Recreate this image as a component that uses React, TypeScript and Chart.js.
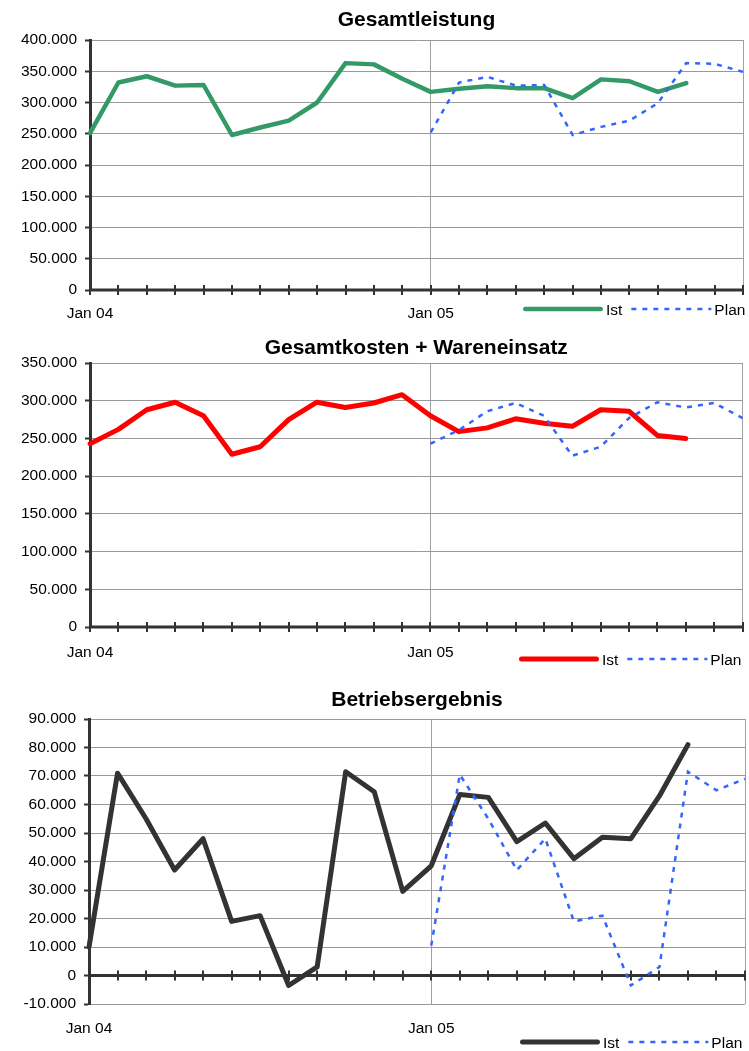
import React, { useEffect, useRef } from 'react';
import { Chart, registerables } from 'chart.js';

Chart.register(...registerables);
Chart.defaults.font.family = "'Liberation Sans', Arial, Helvetica, sans-serif";

// ---------- data ----------
const categories = [
  'Jan 04', 'Feb 04', 'Mär 04', 'Apr 04', 'Mai 04', 'Jun 04', 'Jul 04', 'Aug 04', 'Sep 04', 'Okt 04', 'Nov 04', 'Dez 04',
  'Jan 05', 'Feb 05', 'Mär 05', 'Apr 05', 'Mai 05', 'Jun 05', 'Jul 05', 'Aug 05', 'Sep 05', 'Okt 05', 'Nov 05', 'Dez 05',
];
const tickLabels = ['Jan 04', 'Jan 05'];
const seriesNames = ['Ist', 'Plan'];

const leistungIst = [
  251000, 332000, 342000, 327000, 328000, 248000, 260000, 271000, 300000, 363000, 361000, 338000,
  317000, 322000, 326000, 323000, 323000, 307000, 337000, 334000, 317000, 331000, null, null,
];
const leistungPlan = [
  null, null, null, null, null, null, null, null, null, null, null, null,
  252000, 332000, 341000, 327000, 328000, 248000, 261000, 271000, 299000, 363000, 362000, 349000,
];

const kostenIst = [
  243000, 262000, 288000, 298000, 280000, 229000, 239000, 275000, 298000, 291000, 297000, 308000,
  280000, 259000, 264000, 276000, 270000, 266000, 288000, 286000, 254000, 250000, null, null,
];
const kostenPlan = [
  null, null, null, null, null, null, null, null, null, null, null, null,
  243000, 261000, 286000, 297000, 280000, 227000, 239000, 277000, 298000, 291000, 297000, 277000,
];

const ergebnisIst = [
  10000, 71000, 55000, 37000, 48000, 19000, 21000, -3500, 3000, 71500, 64500, 29500,
  38500, 63500, 62500, 47000, 53500, 41000, 48500, 48000, 63000, 81000, null, null,
];
const ergebnisPlan = [
  null, null, null, null, null, null, null, null, null, null, null, null,
  10500, 70500, 55000, 37000, 48000, 19000, 21000, -3500, 3000, 71500, 65000, 69000,
];

// ---------- helpers ----------
const fmt = (v: number) => {
  const s = Math.abs(Math.round(v)).toString().replace(/\B(?=(\d{3})+(?!\d))/g, '.');
  return v < 0 ? '-' + s : s;
};

const FONT = "'Liberation Sans', Arial, Helvetica, sans-serif";

const decoPlugin = {
  id: 'panelDeco',
  beforeDatasetsDraw(chart: any) {
    const { ctx, chartArea } = chart;
    const xs = chart.scales.x;
    const ys = chart.scales.y;
    const y0 = ys.getPixelForValue(0);
    ctx.save();
    ctx.strokeStyle = '#333333';
    ctx.lineWidth = 3;
    ctx.beginPath();
    ctx.moveTo(chartArea.left, y0);
    ctx.lineTo(chartArea.right, y0);
    ctx.stroke();
    ctx.lineWidth = 2;
    for (let i = 0; i < categories.length; i++) {
      const px = Math.round(xs.getPixelForTick(i));
      ctx.beginPath();
      ctx.moveTo(px, y0 - 5);
      ctx.lineTo(px, y0 + 5);
      ctx.stroke();
    }
    ctx.restore();
  },
  afterDraw(chart: any, _args: any, opts: any) {
    const { ctx } = chart;
    let cx = opts.x;
    const y = opts.y;
    ctx.save();
    ctx.font = `15.5px ${FONT}`;
    chart.data.datasets.forEach((ds: any) => {
      const w = 80;
      const dashed = !!ds.borderDash;
      ctx.save();
      ctx.strokeStyle = ds.borderColor;
      ctx.lineWidth = ds.borderWidth;
      ctx.setLineDash(dashed ? ds.borderDash : []);
      ctx.lineCap = dashed ? 'butt' : 'round';
      const inset = dashed ? 0 : ds.borderWidth / 2;
      ctx.beginPath();
      ctx.moveTo(cx + inset, y);
      ctx.lineTo(cx + w - inset, y);
      ctx.stroke();
      ctx.restore();
      ctx.fillStyle = '#000';
      ctx.textBaseline = 'middle';
      ctx.textAlign = 'left';
      ctx.fillText(ds.label, cx + w + 3, y + 1.5);
      cx += w + 3 + ctx.measureText(ds.label).width + 9;
    });
    ctx.restore();
  },
};

type PanelSpec = {
  title: string;
  top: number;
  height: number;
  titlePad: { top: number; bottom: number };
  left: number;
  right: number;
  xAxisHeight: number;
  labelOffset: number;
  yMin: number;
  yMax: number;
  yStep: number;
  ist: (number | null)[];
  plan: (number | null)[];
  istColor: string;
  istWidth: number;
  legendX: number;
  legendY: number;
};

const panels: PanelSpec[] = [
  {
    title: 'Gesamtleistung', top: 0, height: 330, titlePad: { top: 9.5, bottom: 9.5 },
    left: 90, right: 743, xAxisHeight: 40, labelOffset: 23.5,
    yMin: 0, yMax: 400000, yStep: 50000, ist: leistungIst, plan: leistungPlan,
    istColor: '#339966', istWidth: 4.5, legendX: 523, legendY: 309,
  },
  {
    title: 'Gesamtkosten + Wareneinsatz', top: 330, height: 340, titlePad: { top: 7.5, bottom: 4.5 },
    left: 90, right: 742.5, xAxisHeight: 43, labelOffset: 25.5,
    yMin: 0, yMax: 350000, yStep: 50000, ist: kostenIst, plan: kostenPlan,
    istColor: '#ff0000', istWidth: 5, legendX: 519, legendY: 329,
  },
  {
    title: 'Betriebsergebnis', top: 670, height: 381, titlePad: { top: 19.5, bottom: 8.5 },
    left: 89, right: 745, xAxisHeight: 47, labelOffset: 24.5,
    yMin: -10000, yMax: 90000, yStep: 10000, ist: ergebnisIst, plan: ergebnisPlan,
    istColor: '#333333', istWidth: 5, legendX: 520, legendY: 372,
  },
];

function Panel({ spec }: { spec: PanelSpec }) {
  const ref = useRef<HTMLCanvasElement | null>(null);
  useEffect(() => {
    if (!ref.current) return;
    const chart = new Chart(ref.current, {
      type: 'line',
      data: {
        labels: categories,
        datasets: [
          {
            label: seriesNames[0],
            data: spec.ist,
            borderColor: spec.istColor,
            backgroundColor: spec.istColor,
            borderWidth: spec.istWidth,
            pointRadius: 0,
            tension: 0,
            borderCapStyle: 'round',
            borderJoinStyle: 'round',
            spanGaps: false,
            order: 1,
          },
          {
            label: seriesNames[1],
            data: spec.plan,
            borderColor: '#3366ff',
            backgroundColor: '#3366ff',
            borderWidth: 2.5,
            borderDash: [5, 6],
            pointRadius: 0,
            tension: 0,
            spanGaps: false,
            order: 0,
          },
        ],
      } as any,
      options: {
        responsive: false,
        animation: false,
        devicePixelRatio: 1,
        layout: { padding: { left: 0, right: 749 - spec.right, top: 0, bottom: 0 } },
        plugins: {
          legend: { display: false },
          tooltip: { enabled: false },
          title: {
            display: true,
            text: spec.title,
            color: '#000',
            fullSize: false,
            font: { size: 21, weight: 'bold', lineHeight: 1 },
            padding: spec.titlePad,
          },
          panelDeco: { x: spec.legendX, y: spec.legendY },
        } as any,
        scales: {
          x: {
            type: 'category',
            offset: false,
            grid: {
              color: (c: any) => (c.index === 12 || c.index === categories.length - 1 ? '#a0a0a0' : 'rgba(0,0,0,0)'),
              lineWidth: 1,
              drawTicks: false,
            },
            border: { display: false },
            ticks: {
              autoSkip: false,
              maxRotation: 0,
              minRotation: 0,
              padding: 0,
              color: '#000',
              font: { size: 15.5, lineHeight: `${spec.labelOffset * 2}px` },
              callback: function (this: any, v: any) {
                const l = this.getLabelForValue(v);
                return tickLabels.includes(l) ? l : '';
              },
            },
            afterFit: (s: any) => {
              s.height = spec.xAxisHeight;
            },
          },
          y: {
            min: spec.yMin,
            max: spec.yMax,
            ticks: {
              stepSize: spec.yStep,
              autoSkip: false,
              padding: 8,
              color: '#000',
              font: { size: 15.5 },
              callback: (v: any) => fmt(Number(v)),
            },
            grid: {
              color: '#9a9a9a',
              lineWidth: 1,
              tickLength: 5,
              tickColor: '#333333',
              tickWidth: 2,
            },
            border: { color: '#333333', width: 3 },
            afterFit: (s: any) => {
              s.width = spec.left;
            },
          },
        },
      } as any,
      plugins: [decoPlugin as any],
    });
    return () => chart.destroy();
  }, [spec]);
  return (
    <canvas
      ref={ref}
      width={749}
      height={spec.height}
      style={{ position: 'absolute', left: 0, top: spec.top, width: 749, height: spec.height }}
    />
  );
}

export default function App() {
  return (
    <div style={{ position: 'absolute', left: 0, top: 0, width: 749, height: 1051, background: '#fff', overflow: 'hidden' }}>
      {panels.map((p) => (
        <Panel key={p.title} spec={p} />
      ))}
    </div>
  );
}
